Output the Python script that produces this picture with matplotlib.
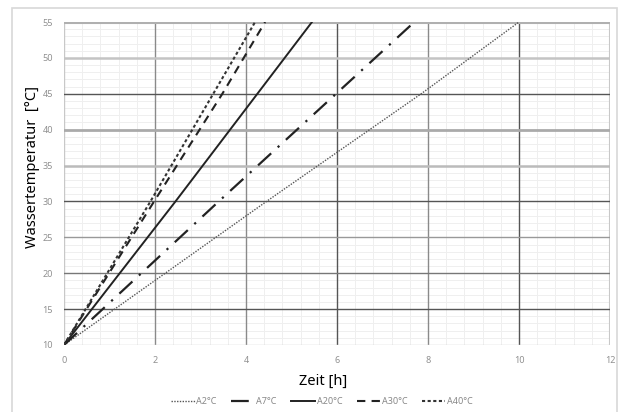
import numpy as np
import matplotlib.pyplot as plt
from matplotlib.patches import Rectangle

plt.rcParams['font.family'] = ['Noto Sans', 'DejaVu Sans']

# Aufheizkurven: Zeit [h] und Wassertemperatur [°C]
labels = ['A2°C', 'A7°C', 'A20°C', 'A30°C', 'A40°C']
zeit_a2 = [0, 4.45, 7.85, 10.0]
temp_a2 = [10, 30, 45, 55]
zeit_a7 = [0, 3.4, 5.98, 7.7]
temp_a7 = [10, 30, 45, 55]
zeit_a20 = [0, 2.45, 4.25, 5.45]
temp_a20 = [10, 30, 45, 55]
zeit_a30 = [0, 1.98, 3.48, 4.42]
temp_a30 = [10, 30, 45, 55]
zeit_a40 = [0, 1.9, 3.28, 4.2]
temp_a40 = [10, 30, 45, 55]

x_ticks = [0, 2, 4, 6, 8, 10, 12]
y_ticks = [10, 15, 20, 25, 30, 35, 40, 45, 50, 55]

fig = plt.figure(figsize=(6.24, 4.12), dpi=100)
fig.patches.append(Rectangle((12 / 624, -0.01), 605 / 624, 1 - 8 / 412 + 0.01,
                             transform=fig.transFigure, fill=False,
                             edgecolor='#d8d8d8', lw=1.2))
ax = fig.add_axes([64 / 624, 1 - 345 / 412, 546 / 624, 323 / 412])

ax.set_xlim(0, 12)
ax.set_ylim(10, 55)

# Nebengitter
for xv in np.arange(0, 12.01, 0.4):
    ax.axvline(xv, color='#efefef', lw=0.7, zorder=0)
for yv in range(10, 56):
    ax.axhline(yv, color='#efefef', lw=0.7, zorder=0)

# Hauptgitter (Farben wie im gescannten Original)
vcol = {0: ('#c8c8c8', 1.0), 2: ('#8a8a8a', 1.0), 4: ('#8a8a8a', 1.0), 6: ('#555555', 1.0),
        8: ('#8a8a8a', 1.0), 10: ('#555555', 1.0), 12: ('#c8c8c8', 1.5)}
for xv in x_ticks:
    c, w = vcol[xv]
    ax.axvline(xv, color=c, lw=w, zorder=1)
hcol = {10: ('#d0d0d0', 1.0), 15: ('#555555', 1.0), 20: ('#777777', 1.0), 25: ('#999999', 1.0),
        30: ('#555555', 1.0), 35: ('#bbbbbb', 1.8), 40: ('#aaaaaa', 2.0), 45: ('#555555', 1.0),
        50: ('#c4c4c4', 1.8), 55: ('#b0b0b0', 2.2)}
for yv in y_ticks:
    c, w = hcol[yv]
    ax.axhline(yv, color=c, lw=w, zorder=1)

ax.plot(zeit_a2, temp_a2, color='#555555', lw=1.0, ls=(0, (1, 1)), label=labels[0], zorder=3)
ax.plot(zeit_a7, temp_a7, color='#222222', lw=1.6, ls=(0, (8, 4, 1, 4)), label=labels[1], zorder=3)
ax.plot(zeit_a20, temp_a20, color='#222222', lw=1.4, ls='-', label=labels[2], zorder=3)
ax.plot(zeit_a30, temp_a30, color='#222222', lw=1.5, ls=(0, (4, 3)), label=labels[3], zorder=3)
ax.plot(zeit_a40, temp_a40, color='#333333', lw=1.5, ls=(0, (1.5, 1.2)), label=labels[4], zorder=3)

for s in ax.spines.values():
    s.set_visible(False)
ax.set_xticks(x_ticks)
ax.set_yticks(y_ticks)
ax.tick_params(length=0, labelsize=6.5, labelcolor='#909090', pad=8)

fig.text(323 / 624, 1 - 381 / 412, 'Zeit [h]', ha='center', va='center', fontsize=10.5)
fig.text(33 / 624, 1 - 167 / 412, 'Wassertemperatur  [°C]', ha='center', va='center',
         rotation=90, fontsize=10.5)

leg = fig.legend(loc='center', bbox_to_anchor=(322 / 624, 1 - 402 / 412), ncol=5,
                 frameon=False, fontsize=6.5, handlelength=2.6, handletextpad=0.2,
                 columnspacing=1.6, labelcolor='#888888')

fig.savefig('out.png', dpi=100)
